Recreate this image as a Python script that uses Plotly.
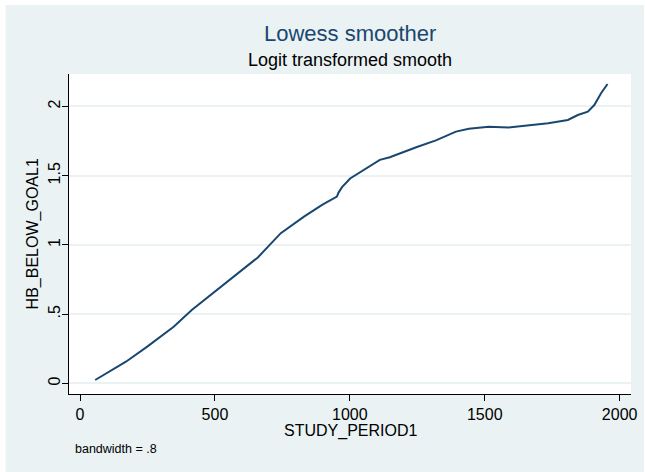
import plotly.graph_objects as go

# Lowess fit of HB_BELOW_GOAL1 on STUDY_PERIOD1 (logit-transformed smooth)
study_period = [56, 170, 249, 347, 414, 500, 585, 659, 744, 830, 897, 952, 958,
                971, 1001, 1050, 1111, 1148, 1221, 1246, 1319, 1393, 1441, 1515,
                1588, 1650, 1735, 1808, 1845, 1882, 1906, 1931, 1955]
hb_smooth = [0.025, 0.157, 0.266, 0.41, 0.53, 0.663, 0.79, 0.91, 1.085, 1.204,
             1.289, 1.349, 1.378, 1.417, 1.48, 1.54, 1.614, 1.633, 1.69, 1.705,
             1.755, 1.818, 1.838, 1.854, 1.847, 1.861, 1.878, 1.902, 1.938,
             1.962, 2.01, 2.095, 2.162]

x_ticks = [0, 500, 1000, 1500, 2000]
x_tick_text = ["0", "500", "1000", "1500", "2000"]
y_ticks = [0, 0.5, 1, 1.5, 2]
y_tick_text = ["0", ".5", "1", "1.5", "2"]

NAVY = "#1a476f"
BG = "#eaf2f3"
FONT = "Liberation Sans, Arial, sans-serif"

W, H = 645, 472
L, R, T, B = 69, 8, 74, 78
pw, ph = W - L - R, H - T - B


def px_x(p):
    return (p - L) / pw


def px_y(p):
    return (H - B - p) / ph


fig = go.Figure()
fig.add_trace(go.Scatter(
    x=study_period, y=hb_smooth, mode="lines",
    line=dict(color=NAVY, width=2), hoverinfo="skip", showlegend=False,
))

shapes = [
    # graph region background
    dict(type="rect", xref="paper", yref="paper", layer="below",
         x0=px_x(5), x1=px_x(W + 5), y0=px_y(H + 5), y1=px_y(5),
         fillcolor=BG, line=dict(width=0)),
    # plot region
    dict(type="rect", xref="paper", yref="paper", layer="below",
         x0=0, x1=1, y0=0, y1=1, fillcolor="white", line=dict(width=0)),
]

annotations = [
    dict(text="Lowess smoother", xref="paper", yref="paper", x=0.5, y=px_y(43),
         xanchor="center", yanchor="bottom", showarrow=False,
         font=dict(family=FONT, size=22, color=NAVY), yshift=-5),
    dict(text="Logit transformed smooth", xref="paper", yref="paper", x=0.5,
         y=px_y(68), xanchor="center", yanchor="bottom", showarrow=False,
         font=dict(family=FONT, size=18, color="black"), yshift=-4),
    dict(text="STUDY_PERIOD1", xref="paper", yref="paper", x=0.5, y=px_y(438),
         xanchor="center", yanchor="bottom", showarrow=False,
         font=dict(family=FONT, size=16, color="black"), yshift=-4),
    dict(text="HB_BELOW_GOAL1", xref="paper", yref="paper", x=px_x(33), y=0.5,
         xanchor="center", yanchor="middle", textangle=-90, showarrow=False,
         font=dict(family=FONT, size=16, color="black")),
    dict(text="bandwidth = .8", xref="paper", yref="paper", x=px_x(73),
         y=px_y(455), xanchor="left", yanchor="bottom", showarrow=False,
         font=dict(family=FONT, size=12.5, color="black"), yshift=-3),
]

fig.update_layout(
    width=W, height=H,
    margin=dict(l=L, r=R, t=T, b=B, pad=0),
    paper_bgcolor="white", plot_bgcolor="white",
    shapes=shapes, annotations=annotations,
    font=dict(family=FONT, size=16, color="black"),
    xaxis=dict(range=[-41, 2042], tickvals=x_ticks, ticktext=x_tick_text,
               showgrid=False, zeroline=False, showline=True,
               linecolor="black", linewidth=1, ticks="outside", ticklen=6,
               tickcolor="black", tickwidth=1, tickfont=dict(size=16)),
    yaxis=dict(range=[-0.076, 2.234], tickvals=y_ticks, ticktext=y_tick_text,
               showgrid=True, gridcolor=BG, gridwidth=2, zeroline=False,
               showline=True, linecolor="black", linewidth=1,
               ticks="outside", ticklen=6, tickcolor="black", tickwidth=1,
               tickangle=-90, tickfont=dict(size=16), ticklabelstandoff=-4),
)

fig.write_html("out.html")
